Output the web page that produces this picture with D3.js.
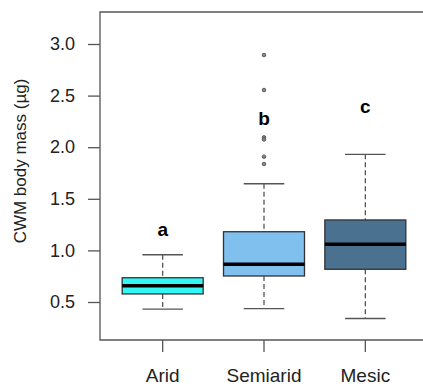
<!DOCTYPE html>
<html>
<head>
<meta charset="utf-8">
<script src="https://cdn.jsdelivr.net/npm/d3@7"></script>
<style>
  body { margin: 0; background: #fff; }
  svg { display: block; font-family: 'Liberation Sans', Arial, sans-serif; }
</style>
</head>
<body>
<div id="chart"></div>
<script>
// data
const groups = ['Arid', 'Semiarid', 'Mesic'];
const lowerWhisker = [0.43, 0.435, 0.34];
const q1 = [0.578, 0.752, 0.817];
const median = [0.658, 0.865, 1.059];
const q3 = [0.735, 1.181, 1.295];
const upperWhisker = [0.958, 1.646, 1.931];
const outliers = [[], [2.893, 2.554, 2.095, 2.075, 1.908, 1.837], []];
const letters = ['a', 'b', 'c'];
const letterValues = [1.2, 2.28, 2.4];
const fills = ['#33f6f6', '#80c0ee', '#4a7190'];
const yTicks = [0.5, 1.0, 1.5, 2.0, 2.5, 3.0];

const W = 423, H = 386;
const lineColour = '#555';

const svg = d3.select('#chart').append('svg')
    .attr('width', W).attr('height', H);

const y = d3.scaleLinear().domain([0, 3.0]).range([353.6, 44]);
const x = d3.scaleBand().domain(groups).range([112, 416]).paddingInner(0.2).paddingOuter(0.1);
const cx = (g) => x(g) + x.bandwidth() / 2;
const boxW = 81;

// frame (left, top, bottom; right edge runs off the picture)
svg.append('path')
    .attr('d', `M${W + 5},12 H100 V340 H${W + 5}`)
    .attr('fill', 'none').attr('stroke', lineColour).attr('stroke-width', 1.3);

// y axis
const yAxis = svg.append('g')
    .attr('transform', 'translate(100,0)')
    .call(d3.axisLeft(y).tickValues(yTicks).tickFormat(d3.format('.1f')).tickSize(12).tickPadding(13));
yAxis.select('.domain').remove();
yAxis.selectAll('line').attr('stroke', lineColour).attr('stroke-width', 1.3);
yAxis.selectAll('text').attr('fill', '#222').style('font-size', '18px');

// x axis
const xAxis = svg.append('g')
    .attr('transform', 'translate(0,340)')
    .call(d3.axisBottom(x).tickSize(12));
xAxis.select('.domain').remove();
xAxis.selectAll('line').attr('stroke', lineColour).attr('stroke-width', 1.3);
xAxis.selectAll('text').attr('fill', '#222').style('font-size', '19px')
    .attr('y', 42).attr('dy', 0);

// y label
svg.append('text')
    .attr('transform', 'translate(26,161) rotate(-90)')
    .attr('text-anchor', 'middle')
    .attr('fill', '#222')
    .style('font-size', '17px')
    .text('CWM body mass (µg)');

const boxes = svg.selectAll('g.box').data(groups).join('g').attr('class', 'box');

// whiskers
boxes.append('line')
    .attr('x1', cx).attr('x2', cx)
    .attr('y1', (d, i) => y(upperWhisker[i])).attr('y2', (d, i) => y(q3[i]))
    .attr('stroke', lineColour).attr('stroke-width', 1.3).attr('stroke-dasharray', '5,3');
boxes.append('line')
    .attr('x1', cx).attr('x2', cx)
    .attr('y1', (d, i) => y(q1[i])).attr('y2', (d, i) => y(lowerWhisker[i]))
    .attr('stroke', lineColour).attr('stroke-width', 1.3).attr('stroke-dasharray', '5,3');

// caps
[upperWhisker, lowerWhisker].forEach((arr) => {
    boxes.append('line')
        .attr('x1', (d) => cx(d) - boxW / 4).attr('x2', (d) => cx(d) + boxW / 4)
        .attr('y1', (d, i) => y(arr[i])).attr('y2', (d, i) => y(arr[i]))
        .attr('stroke', lineColour).attr('stroke-width', 1.3);
});

// box
boxes.append('rect')
    .attr('x', (d) => cx(d) - boxW / 2)
    .attr('width', boxW)
    .attr('y', (d, i) => y(q3[i]))
    .attr('height', (d, i) => y(q1[i]) - y(q3[i]))
    .attr('fill', (d, i) => fills[i])
    .attr('stroke', '#333').attr('stroke-width', 1.3);

// median
boxes.append('line')
    .attr('x1', (d) => cx(d) - boxW / 2).attr('x2', (d) => cx(d) + boxW / 2)
    .attr('y1', (d, i) => y(median[i])).attr('y2', (d, i) => y(median[i]))
    .attr('stroke', '#000').attr('stroke-width', 3.5);

// outliers
boxes.each(function (d, i) {
    d3.select(this).selectAll('circle').data(outliers[i]).join('circle')
        .attr('cx', cx(d)).attr('cy', (v) => y(v)).attr('r', 1.8)
        .attr('fill', '#888').attr('stroke', '#444').attr('stroke-width', 0.8);
});

// significance letters
boxes.append('text')
    .attr('x', cx)
    .attr('y', (d, i) => y(letterValues[i]))
    .attr('text-anchor', 'middle')
    .attr('dy', '0.35em')
    .style('font-size', '19px').style('font-weight', 'bold')
    .text((d, i) => letters[i]);
</script>
</body>
</html>
